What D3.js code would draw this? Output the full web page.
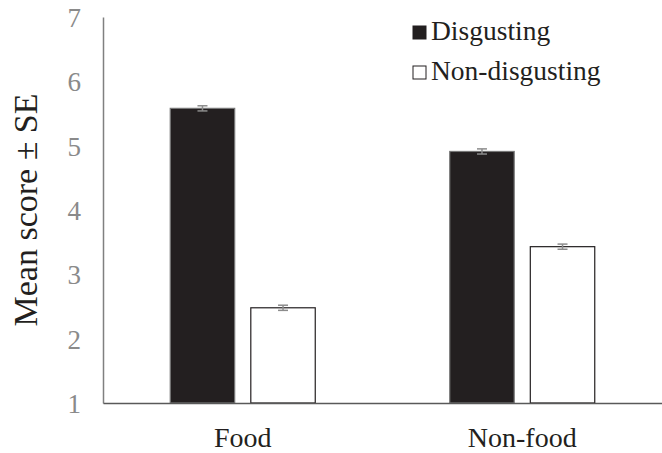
<!DOCTYPE html>
<html>
<head>
<meta charset="utf-8">
<script src="https://cdn.jsdelivr.net/npm/d3@7"></script>
<style>
  body { margin: 0; background: #fff; }
</style>
</head>
<body>
<svg width="662" height="453"></svg>
<script>
var categories = ['Food', 'Non-food'];
var seriesNames = ['Disgusting', 'Non-disgusting'];
var disgusting = [5.58, 4.91];
var disgustingSE = [0.04, 0.04];
var nonDisgusting = [2.48, 3.43];
var nonDisgustingSE = [0.04, 0.04];
var yTicks = [1, 2, 3, 4, 5, 6, 7];

var serif = '"Liberation Serif", "Times New Roman", "DejaVu Serif", serif';

var svg = d3.select('svg');
var padding = { t: 17, r: 0, b: 50, l: 103 };
var chartWidth = +svg.attr('width') - padding.l - padding.r;
var chartHeight = +svg.attr('height') - padding.t - padding.b;

var chartG = svg.append('g')
    .attr('transform', 'translate(' + [padding.l, padding.t] + ')');

// build rows for the bars
var rows = [];
categories.forEach(function(c, i) {
    rows.push({ cat: c, series: seriesNames[0], value: disgusting[i], se: disgustingSE[i] });
    rows.push({ cat: c, series: seriesNames[1], value: nonDisgusting[i], se: nonDisgustingSE[i] });
});

var xScale = d3.scaleBand()
    .domain(categories)
    .range([0, chartWidth]);

var xInner = d3.scaleBand()
    .domain(seriesNames)
    .range([0, 145])
    .paddingInner(0.2);

var yScale = d3.scaleLinear()
    .domain([1, 7])
    .range([chartHeight, 0]);

var fills = { 'Disgusting': '#231f20', 'Non-disgusting': '#ffffff' };

// y axis
var yAxis = chartG.append('g')
    .attr('class', 'y-axis')
    .call(d3.axisLeft(yScale).tickValues(yTicks).tickSize(0).tickPadding(22).tickFormat(d3.format('d')));
yAxis.attr('font-family', null);
yAxis.select('.domain').attr('stroke', '#808080').attr('stroke-width', 1.5);
yAxis.selectAll('text')
    .attr('fill', '#8a8a8a')
    .style('font-family', serif)
    .style('font-size', '27px')
    .attr('dy', '0.35em');

// bars
chartG.selectAll('.bar')
    .data(rows)
    .enter().append('rect')
    .attr('class', 'bar')
    .attr('x', function(d) { return xScale(d.cat) + (xScale.bandwidth() - 145) / 2 + xInner(d.series); })
    .attr('y', function(d) { return yScale(d.value); })
    .attr('width', xInner.bandwidth())
    .attr('height', function(d) { return yScale(1) - yScale(d.value); })
    .attr('fill', function(d) { return fills[d.series]; })
    .attr('stroke', function(d) { return d.series === 'Disgusting' ? '#777' : '#231f20'; })
    .attr('stroke-width', 1.2);

// error bars
var err = chartG.selectAll('.err')
    .data(rows)
    .enter().append('g')
    .attr('class', 'err')
    .attr('transform', function(d) {
        return 'translate(' + (xScale(d.cat) + (xScale.bandwidth() - 145) / 2 + xInner(d.series) + xInner.bandwidth() / 2) + ',0)';
    })
    .attr('stroke', '#8c8c8c')
    .attr('stroke-width', 1.5);
err.append('line')
    .attr('y1', function(d) { return yScale(d.value - d.se); })
    .attr('y2', function(d) { return yScale(d.value + d.se); });
err.append('line')
    .attr('x1', -5).attr('x2', 5)
    .attr('y1', function(d) { return yScale(d.value + d.se); })
    .attr('y2', function(d) { return yScale(d.value + d.se); });
err.append('line')
    .attr('x1', -5).attr('x2', 5)
    .attr('y1', function(d) { return yScale(d.value - d.se); })
    .attr('y2', function(d) { return yScale(d.value - d.se); });

// x axis
var xAxis = chartG.append('g')
    .attr('class', 'x-axis')
    .attr('transform', 'translate(0,' + chartHeight + ')')
    .call(d3.axisBottom(xScale).tickSize(0).tickPadding(24));
xAxis.attr('font-family', null);
xAxis.select('.domain').attr('stroke', '#595959').attr('stroke-width', 1.5);
xAxis.selectAll('text')
    .attr('fill', '#231f20')
    .style('font-family', serif)
    .style('font-size', '28px');

// y title
svg.append('text')
    .attr('transform', 'translate(37,210) rotate(-90)')
    .attr('text-anchor', 'middle')
    .attr('fill', '#231f20')
    .style('font-family', serif)
    .style('font-size', '34px')
    .text('Mean score \u00b1 SE');

// legend
var legend = svg.append('g')
    .attr('transform', 'translate(413,24)');
var li = legend.selectAll('.li')
    .data(seriesNames)
    .enter().append('g')
    .attr('transform', function(d, i) { return 'translate(0,' + (i * 40) + ')'; });
li.append('rect')
    .attr('x', 0).attr('y', 2)
    .attr('width', 13).attr('height', 13)
    .attr('fill', function(d) { return fills[d]; })
    .attr('stroke', '#231f20')
    .attr('stroke-width', 1);
li.append('text')
    .attr('x', 18)
    .attr('y', 16)
    .attr('fill', '#231f20')
    .style('font-family', serif)
    .style('font-size', '27.5px')
    .text(function(d) { return d; });
</script>
</body>
</html>
